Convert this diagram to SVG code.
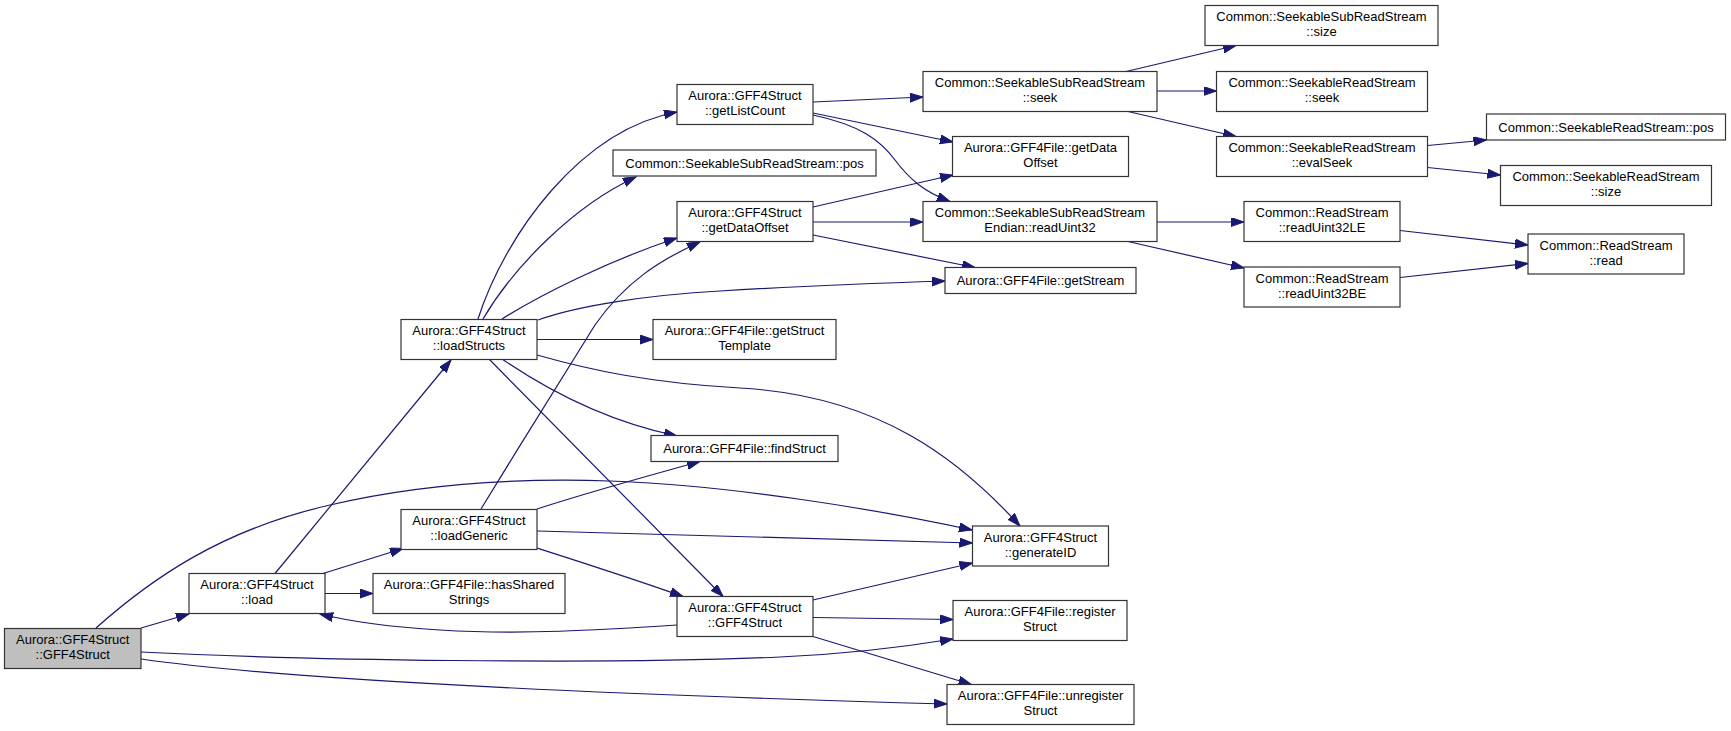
<svg xmlns="http://www.w3.org/2000/svg" width="1731" height="731" viewBox="0 0 1731 731">
<style>
.n rect{fill:#ffffff;stroke:#333333;stroke-width:1.2}
.n.root rect{fill:#bfbfbf}
.n text{font-family:"Liberation Sans",Arial,sans-serif;font-size:13px;fill:#000000;text-anchor:middle}
.e path{fill:none;stroke:#191970;stroke-width:1.2}
</style>
<defs>
<marker id="ah" markerUnits="userSpaceOnUse" markerWidth="14" markerHeight="10" refX="13" refY="4.5" orient="auto">
<path d="M0,0 L13,4.5 L0,9 z" fill="#191970" stroke="#191970" stroke-width="1"/>
</marker>
</defs>
<rect width="1731" height="731" fill="#ffffff"/>
<g id="connectors" class="e">
<path marker-end="url(#ah)" d="M141,628 L189,614"/>
<path marker-end="url(#ah)" d="M96,628 C150,580 220,530 330,505 C420,484 520,478 610,481 C730,485 880,510 972,530"/>
<path marker-end="url(#ah)" d="M141,652 C300,660 600,665 780,657 C850,654 910,646 953,639"/>
<path marker-end="url(#ah)" d="M141,659 C260,676 520,692 947,704"/>
<path marker-end="url(#ah)" d="M275,573.5 L451,360"/>
<path marker-end="url(#ah)" d="M323,573.5 L403,548.5"/>
<path marker-end="url(#ah)" d="M325,593.5 L373,593.5"/>
<path marker-end="url(#ah)" d="M677,625 C600,630 520,635 440,630 C390,627 352,622 320,614"/>
<path marker-end="url(#ah)" d="M478,319 C505,235 580,130 677,112"/>
<path marker-end="url(#ah)" d="M483,319 C515,265 575,205 636,177"/>
<path marker-end="url(#ah)" d="M502,319 C540,295 610,260 677,238"/>
<path marker-end="url(#ah)" d="M538,320 C580,305 650,295 720,291 C800,286 880,283 945,281"/>
<path marker-end="url(#ah)" d="M537,339.5 L653,339.5"/>
<path marker-end="url(#ah)" d="M537,355 C590,370 650,383 740,388 C880,396 960,460 1020,526"/>
<path marker-end="url(#ah)" d="M502,359 C540,385 600,420 677,436"/>
<path marker-end="url(#ah)" d="M489,359 L723,596.5"/>
<path marker-end="url(#ah)" d="M481,509 C520,445 570,365 595,325 C625,282 660,260 700,242"/>
<path marker-end="url(#ah)" d="M537,509 C580,495 640,478 700,461.5"/>
<path marker-end="url(#ah)" d="M537,531 C700,535 850,539 972.5,543"/>
<path marker-end="url(#ah)" d="M537,548 C590,565 640,581 683,596.5"/>
<path marker-end="url(#ah)" d="M813,102 L923,97"/>
<path marker-end="url(#ah)" d="M813,113 L953,142"/>
<path marker-end="url(#ah)" d="M813,115 C860,125 880,140 895,160 C910,180 925,192 950,201.5"/>
<path marker-end="url(#ah)" d="M813,207 L953,175"/>
<path marker-end="url(#ah)" d="M813,222 L923,222"/>
<path marker-end="url(#ah)" d="M813,235 L975,267.5"/>
<path marker-end="url(#ah)" d="M1126,71.5 L1236,45.5"/>
<path marker-end="url(#ah)" d="M1157,91 L1216.5,91"/>
<path marker-end="url(#ah)" d="M1128,111.5 L1236,136.5"/>
<path marker-end="url(#ah)" d="M1427.5,145.5 L1486.5,140"/>
<path marker-end="url(#ah)" d="M1427.5,167.5 L1500.5,175"/>
<path marker-end="url(#ah)" d="M1157,222 L1244,222"/>
<path marker-end="url(#ah)" d="M1128,241.5 L1244,268"/>
<path marker-end="url(#ah)" d="M1400,230.5 L1528,245"/>
<path marker-end="url(#ah)" d="M1400,277.5 L1528,263.5"/>
<path marker-end="url(#ah)" d="M813,600 L972.5,563"/>
<path marker-end="url(#ah)" d="M813,617.5 L953,619.5"/>
<path marker-end="url(#ah)" d="M813,636.5 L971.5,684.5"/>
</g>
<g id="n1" class="n root"><rect x="4.5" y="628.5" width="136.5" height="40"/><text x="72.75" y="644.1">Aurora::GFF4Struct</text><text x="72.75" y="659.1">::GFF4Struct</text></g>
<g id="n2" class="n"><rect x="189" y="573.5" width="136" height="40"/><text x="257" y="589.1">Aurora::GFF4Struct</text><text x="257" y="604.1">::load</text></g>
<g id="n3" class="n"><rect x="373" y="573.5" width="192" height="40"/><text x="469" y="589.1">Aurora::GFF4File::hasShared</text><text x="469" y="604.1">Strings</text></g>
<g id="n4" class="n"><rect x="401" y="319.5" width="136" height="40"/><text x="469" y="335.1">Aurora::GFF4Struct</text><text x="469" y="350.1">::loadStructs</text></g>
<g id="n5" class="n"><rect x="401" y="509.5" width="136" height="40"/><text x="469" y="525.1">Aurora::GFF4Struct</text><text x="469" y="540.1">::loadGeneric</text></g>
<g id="n6" class="n"><rect x="677" y="84.5" width="136" height="40"/><text x="745" y="100.1">Aurora::GFF4Struct</text><text x="745" y="115.1">::getListCount</text></g>
<g id="n7" class="n"><rect x="613" y="150" width="263" height="26"/><text x="744.5" y="167.5">Common::SeekableSubReadStream::pos</text></g>
<g id="n8" class="n"><rect x="677" y="201.5" width="136" height="40"/><text x="745" y="217.1">Aurora::GFF4Struct</text><text x="745" y="232.1">::getDataOffset</text></g>
<g id="n9" class="n"><rect x="653" y="319.5" width="183" height="40"/><text x="744.5" y="335.1">Aurora::GFF4File::getStruct</text><text x="744.5" y="350.1">Template</text></g>
<g id="n10" class="n"><rect x="651" y="435.5" width="187" height="26"/><text x="744.5" y="453">Aurora::GFF4File::findStruct</text></g>
<g id="n11" class="n"><rect x="677" y="596.5" width="136" height="40"/><text x="745" y="612.1">Aurora::GFF4Struct</text><text x="745" y="627.1">::GFF4Struct</text></g>
<g id="n12" class="n"><rect x="923" y="71.5" width="234" height="40"/><text x="1040" y="87.1">Common::SeekableSubReadStream</text><text x="1040" y="102.1">::seek</text></g>
<g id="n13" class="n"><rect x="952.5" y="136.5" width="176" height="40"/><text x="1040.5" y="152.1">Aurora::GFF4File::getData</text><text x="1040.5" y="167.1">Offset</text></g>
<g id="n14" class="n"><rect x="923" y="201.5" width="234" height="40"/><text x="1040" y="217.1">Common::SeekableSubReadStream</text><text x="1040" y="232.1">Endian::readUint32</text></g>
<g id="n15" class="n"><rect x="945" y="267.5" width="191" height="26"/><text x="1040.5" y="285">Aurora::GFF4File::getStream</text></g>
<g id="n16" class="n"><rect x="972.5" y="526" width="136" height="40"/><text x="1040.5" y="541.6">Aurora::GFF4Struct</text><text x="1040.5" y="556.6">::generateID</text></g>
<g id="n17" class="n"><rect x="953" y="600.5" width="174" height="40"/><text x="1040" y="616.1">Aurora::GFF4File::register</text><text x="1040" y="631.1">Struct</text></g>
<g id="n18" class="n"><rect x="947" y="684.5" width="187" height="40"/><text x="1040.5" y="700.1">Aurora::GFF4File::unregister</text><text x="1040.5" y="715.1">Struct</text></g>
<g id="n19" class="n"><rect x="1205" y="5.5" width="233" height="40"/><text x="1321.5" y="21.1">Common::SeekableSubReadStream</text><text x="1321.5" y="36.1">::size</text></g>
<g id="n20" class="n"><rect x="1216.5" y="71.5" width="211" height="40"/><text x="1322" y="87.1">Common::SeekableReadStream</text><text x="1322" y="102.1">::seek</text></g>
<g id="n21" class="n"><rect x="1216.5" y="136.5" width="211" height="40"/><text x="1322" y="152.1">Common::SeekableReadStream</text><text x="1322" y="167.1">::evalSeek</text></g>
<g id="n22" class="n"><rect x="1244" y="201.5" width="156" height="40"/><text x="1322" y="217.1">Common::ReadStream</text><text x="1322" y="232.1">::readUint32LE</text></g>
<g id="n23" class="n"><rect x="1244" y="267" width="156" height="40"/><text x="1322" y="282.6">Common::ReadStream</text><text x="1322" y="297.6">::readUint32BE</text></g>
<g id="n24" class="n"><rect x="1486.5" y="114" width="239" height="26"/><text x="1606" y="131.5">Common::SeekableReadStream::pos</text></g>
<g id="n25" class="n"><rect x="1500.5" y="165.5" width="211" height="40"/><text x="1606" y="181.1">Common::SeekableReadStream</text><text x="1606" y="196.1">::size</text></g>
<g id="n26" class="n"><rect x="1528" y="234" width="156" height="40"/><text x="1606" y="249.6">Common::ReadStream</text><text x="1606" y="264.6">::read</text></g>
</svg>
